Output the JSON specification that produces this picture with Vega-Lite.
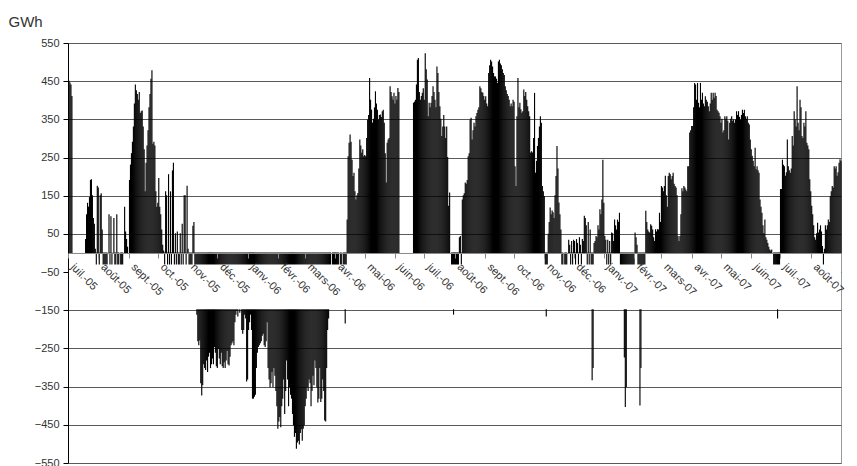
{
"$schema": "https://vega.github.io/schema/vega-lite/v6.json",
"width": 773, "height": 420,
"autosize": {"type": "none"},
"padding": {"left": 68, "top": 43, "right": 16, "bottom": 3},
"background": "white",
"config": {"font": "Liberation Sans", "view": {"stroke": "#9a9a9a", "strokeWidth": 1}},
"data": {"values": [
{"d":"2005-07-01","v":450},{"d":"2005-07-02","v":445},{"d":"2005-07-03","v":440},{"d":"2005-07-04","v":410},{"d":"2005-07-05","v":0},{"d":"2005-07-06","v":0},{"d":"2005-07-07","v":0},{"d":"2005-07-08","v":0},{"d":"2005-07-09","v":0},{"d":"2005-07-10","v":0},{"d":"2005-07-11","v":0},{"d":"2005-07-12","v":0},{"d":"2005-07-13","v":0},{"d":"2005-07-14","v":0},{"d":"2005-07-15","v":0},{"d":"2005-07-16","v":0},{"d":"2005-07-17","v":0},{"d":"2005-07-18","v":35},{"d":"2005-07-19","v":100},{"d":"2005-07-20","v":130},{"d":"2005-07-21","v":120},{"d":"2005-07-22","v":145},{"d":"2005-07-23","v":190},{"d":"2005-07-24","v":192},{"d":"2005-07-25","v":150},{"d":"2005-07-26","v":90},{"d":"2005-07-27","v":75},{"d":"2005-07-28","v":10},{"d":"2005-07-29","v":-80},{"d":"2005-07-30","v":175},{"d":"2005-07-31","v":170},
{"d":"2005-08-01","v":-90},{"d":"2005-08-02","v":150},{"d":"2005-08-03","v":155},{"d":"2005-08-04","v":60},{"d":"2005-08-05","v":-70},{"d":"2005-08-06","v":-100},{"d":"2005-08-07","v":-80},{"d":"2005-08-08","v":-60},{"d":"2005-08-09","v":-90},{"d":"2005-08-10","v":0},{"d":"2005-08-11","v":100},{"d":"2005-08-12","v":-70},{"d":"2005-08-13","v":95},{"d":"2005-08-14","v":-80},{"d":"2005-08-15","v":0},{"d":"2005-08-16","v":90},{"d":"2005-08-17","v":-60},{"d":"2005-08-18","v":-90},{"d":"2005-08-19","v":100},{"d":"2005-08-20","v":-70},{"d":"2005-08-21","v":-80},{"d":"2005-08-22","v":0},{"d":"2005-08-23","v":-60},{"d":"2005-08-24","v":-90},{"d":"2005-08-25","v":-80},{"d":"2005-08-26","v":0},{"d":"2005-08-27","v":120},{"d":"2005-08-28","v":55},{"d":"2005-08-29","v":35},{"d":"2005-08-30","v":15},{"d":"2005-08-31","v":0},
{"d":"2005-09-01","v":190},{"d":"2005-09-02","v":230},{"d":"2005-09-03","v":260},{"d":"2005-09-04","v":290},{"d":"2005-09-05","v":330},{"d":"2005-09-06","v":390},{"d":"2005-09-07","v":440},{"d":"2005-09-08","v":425},{"d":"2005-09-09","v":415},{"d":"2005-09-10","v":400},{"d":"2005-09-11","v":420},{"d":"2005-09-12","v":365},{"d":"2005-09-13","v":370},{"d":"2005-09-14","v":372},{"d":"2005-09-15","v":330},{"d":"2005-09-16","v":270},{"d":"2005-09-17","v":160},{"d":"2005-09-18","v":235},{"d":"2005-09-19","v":280},{"d":"2005-09-20","v":320},{"d":"2005-09-21","v":380},{"d":"2005-09-22","v":415},{"d":"2005-09-23","v":455},{"d":"2005-09-24","v":477},{"d":"2005-09-25","v":285},{"d":"2005-09-26","v":290},{"d":"2005-09-27","v":280},{"d":"2005-09-28","v":160},{"d":"2005-09-29","v":120},{"d":"2005-09-30","v":130},
{"d":"2005-10-01","v":195},{"d":"2005-10-02","v":120},{"d":"2005-10-03","v":100},{"d":"2005-10-04","v":60},{"d":"2005-10-05","v":20},{"d":"2005-10-06","v":5},{"d":"2005-10-07","v":-80},{"d":"2005-10-08","v":160},{"d":"2005-10-09","v":150},{"d":"2005-10-10","v":-90},{"d":"2005-10-11","v":205},{"d":"2005-10-12","v":-70},{"d":"2005-10-13","v":160},{"d":"2005-10-14","v":-100},{"d":"2005-10-15","v":215},{"d":"2005-10-16","v":235},{"d":"2005-10-17","v":-80},{"d":"2005-10-18","v":50},{"d":"2005-10-19","v":-60},{"d":"2005-10-20","v":55},{"d":"2005-10-21","v":-90},{"d":"2005-10-22","v":-70},{"d":"2005-10-23","v":50},{"d":"2005-10-24","v":-80},{"d":"2005-10-25","v":75},{"d":"2005-10-26","v":-60},{"d":"2005-10-27","v":150},{"d":"2005-10-28","v":150},{"d":"2005-10-29","v":-70},{"d":"2005-10-30","v":175},{"d":"2005-10-31","v":10},
{"d":"2005-11-01","v":-90},{"d":"2005-11-02","v":-100},{"d":"2005-11-03","v":-80},{"d":"2005-11-04","v":-120},{"d":"2005-11-05","v":70},{"d":"2005-11-06","v":80},{"d":"2005-11-07","v":-110},{"d":"2005-11-08","v":-120},{"d":"2005-11-09","v":-160},{"d":"2005-11-10","v":-230},{"d":"2005-11-11","v":-240},{"d":"2005-11-12","v":-228},{"d":"2005-11-13","v":-340},{"d":"2005-11-14","v":-372},{"d":"2005-11-15","v":-345},{"d":"2005-11-16","v":-290},{"d":"2005-11-17","v":-300},{"d":"2005-11-18","v":-305},{"d":"2005-11-19","v":-280},{"d":"2005-11-20","v":-310},{"d":"2005-11-21","v":-270},{"d":"2005-11-22","v":-260},{"d":"2005-11-23","v":-300},{"d":"2005-11-24","v":-290},{"d":"2005-11-25","v":-275},{"d":"2005-11-26","v":-290},{"d":"2005-11-27","v":-245},{"d":"2005-11-28","v":-260},{"d":"2005-11-29","v":-295},{"d":"2005-11-30","v":-300},
{"d":"2005-12-01","v":-250},{"d":"2005-12-02","v":-275},{"d":"2005-12-03","v":-290},{"d":"2005-12-04","v":-260},{"d":"2005-12-05","v":-295},{"d":"2005-12-06","v":-300},{"d":"2005-12-07","v":-285},{"d":"2005-12-08","v":-300},{"d":"2005-12-09","v":-280},{"d":"2005-12-10","v":-255},{"d":"2005-12-11","v":-290},{"d":"2005-12-12","v":-293},{"d":"2005-12-13","v":-270},{"d":"2005-12-14","v":-240},{"d":"2005-12-15","v":-235},{"d":"2005-12-16","v":-230},{"d":"2005-12-17","v":-240},{"d":"2005-12-18","v":-180},{"d":"2005-12-19","v":-160},{"d":"2005-12-20","v":-150},{"d":"2005-12-21","v":-165},{"d":"2005-12-22","v":-140},{"d":"2005-12-23","v":-155},{"d":"2005-12-24","v":-140},{"d":"2005-12-25","v":-200},{"d":"2005-12-26","v":-210},{"d":"2005-12-27","v":-200},{"d":"2005-12-28","v":-160},{"d":"2005-12-29","v":-170},{"d":"2005-12-30","v":-335},{"d":"2005-12-31","v":-330},
{"d":"2006-01-01","v":-200},{"d":"2006-01-02","v":-180},{"d":"2006-01-03","v":-160},{"d":"2006-01-04","v":-200},{"d":"2006-01-05","v":-380},{"d":"2006-01-06","v":-380},{"d":"2006-01-07","v":-375},{"d":"2006-01-08","v":-370},{"d":"2006-01-09","v":-300},{"d":"2006-01-10","v":-260},{"d":"2006-01-11","v":-245},{"d":"2006-01-12","v":-240},{"d":"2006-01-13","v":-235},{"d":"2006-01-14","v":-230},{"d":"2006-01-15","v":-215},{"d":"2006-01-16","v":-210},{"d":"2006-01-17","v":-240},{"d":"2006-01-18","v":-245},{"d":"2006-01-19","v":-230},{"d":"2006-01-20","v":-180},{"d":"2006-01-21","v":-300},{"d":"2006-01-22","v":-330},{"d":"2006-01-23","v":-350},{"d":"2006-01-24","v":-340},{"d":"2006-01-25","v":-310},{"d":"2006-01-26","v":-350},{"d":"2006-01-27","v":-300},{"d":"2006-01-28","v":-320},{"d":"2006-01-29","v":-360},{"d":"2006-01-30","v":-400},{"d":"2006-01-31","v":-459},
{"d":"2006-02-01","v":-440},{"d":"2006-02-02","v":-428},{"d":"2006-02-03","v":-455},{"d":"2006-02-04","v":-400},{"d":"2006-02-05","v":-380},{"d":"2006-02-06","v":-330},{"d":"2006-02-07","v":-420},{"d":"2006-02-08","v":-360},{"d":"2006-02-09","v":-280},{"d":"2006-02-10","v":-330},{"d":"2006-02-11","v":-400},{"d":"2006-02-12","v":-350},{"d":"2006-02-13","v":-370},{"d":"2006-02-14","v":-380},{"d":"2006-02-15","v":-420},{"d":"2006-02-16","v":-450},{"d":"2006-02-17","v":-480},{"d":"2006-02-18","v":-470},{"d":"2006-02-19","v":-511},{"d":"2006-02-20","v":-495},{"d":"2006-02-21","v":-490},{"d":"2006-02-22","v":-500},{"d":"2006-02-23","v":-470},{"d":"2006-02-24","v":-460},{"d":"2006-02-25","v":-490},{"d":"2006-02-26","v":-459},{"d":"2006-02-27","v":-450},{"d":"2006-02-28","v":-400},
{"d":"2006-03-01","v":-380},{"d":"2006-03-02","v":-350},{"d":"2006-03-03","v":-360},{"d":"2006-03-04","v":-330},{"d":"2006-03-05","v":-340},{"d":"2006-03-06","v":-400},{"d":"2006-03-07","v":-360},{"d":"2006-03-08","v":-320},{"d":"2006-03-09","v":-345},{"d":"2006-03-10","v":-280},{"d":"2006-03-11","v":-300},{"d":"2006-03-12","v":-350},{"d":"2006-03-13","v":-390},{"d":"2006-03-14","v":-380},{"d":"2006-03-15","v":-300},{"d":"2006-03-16","v":-389},{"d":"2006-03-17","v":-380},{"d":"2006-03-18","v":-330},{"d":"2006-03-19","v":-360},{"d":"2006-03-20","v":-437},{"d":"2006-03-21","v":-440},{"d":"2006-03-22","v":-300},{"d":"2006-03-23","v":-200},{"d":"2006-03-24","v":-170},{"d":"2006-03-25","v":-100},{"d":"2006-03-26","v":-80},{"d":"2006-03-27","v":0},{"d":"2006-03-28","v":-90},{"d":"2006-03-29","v":-120},{"d":"2006-03-30","v":-60},{"d":"2006-03-31","v":-100},
{"d":"2006-04-01","v":-100},{"d":"2006-04-02","v":-80},{"d":"2006-04-03","v":-120},{"d":"2006-04-04","v":0},{"d":"2006-04-05","v":-90},{"d":"2006-04-06","v":-60},{"d":"2006-04-07","v":0},{"d":"2006-04-08","v":-100},{"d":"2006-04-09","v":-80},{"d":"2006-04-10","v":-183},{"d":"2006-04-11","v":-90},{"d":"2006-04-12","v":86},{"d":"2006-04-13","v":252},{"d":"2006-04-14","v":287},{"d":"2006-04-15","v":309},{"d":"2006-04-16","v":290},{"d":"2006-04-17","v":243},{"d":"2006-04-18","v":200},{"d":"2006-04-19","v":209},{"d":"2006-04-20","v":160},{"d":"2006-04-21","v":139},{"d":"2006-04-22","v":150},{"d":"2006-04-23","v":156},{"d":"2006-04-24","v":220},{"d":"2006-04-25","v":296},{"d":"2006-04-26","v":280},{"d":"2006-04-27","v":261},{"d":"2006-04-28","v":270},{"d":"2006-04-29","v":252},{"d":"2006-04-30","v":255},
{"d":"2006-05-01","v":252},{"d":"2006-05-02","v":300},{"d":"2006-05-03","v":348},{"d":"2006-05-04","v":360},{"d":"2006-05-05","v":457},{"d":"2006-05-06","v":400},{"d":"2006-05-07","v":374},{"d":"2006-05-08","v":340},{"d":"2006-05-09","v":350},{"d":"2006-05-10","v":380},{"d":"2006-05-11","v":422},{"d":"2006-05-12","v":390},{"d":"2006-05-13","v":374},{"d":"2006-05-14","v":348},{"d":"2006-05-15","v":360},{"d":"2006-05-16","v":361},{"d":"2006-05-17","v":355},{"d":"2006-05-18","v":370},{"d":"2006-05-19","v":374},{"d":"2006-05-20","v":340},{"d":"2006-05-21","v":260},{"d":"2006-05-22","v":183},{"d":"2006-05-23","v":287},{"d":"2006-05-24","v":296},{"d":"2006-05-25","v":300},{"d":"2006-05-26","v":435},{"d":"2006-05-27","v":420},{"d":"2006-05-28","v":409},{"d":"2006-05-29","v":400},{"d":"2006-05-30","v":418},{"d":"2006-05-31","v":390},
{"d":"2006-06-01","v":410},{"d":"2006-06-02","v":400},{"d":"2006-06-03","v":431},{"d":"2006-06-04","v":420},{"d":"2006-06-05","v":0},{"d":"2006-06-06","v":0},{"d":"2006-06-07","v":0},{"d":"2006-06-08","v":0},{"d":"2006-06-09","v":0},{"d":"2006-06-10","v":0},{"d":"2006-06-11","v":0},{"d":"2006-06-12","v":0},{"d":"2006-06-13","v":0},{"d":"2006-06-14","v":0},{"d":"2006-06-15","v":0},{"d":"2006-06-16","v":0},{"d":"2006-06-17","v":0},{"d":"2006-06-18","v":0},{"d":"2006-06-19","v":392},{"d":"2006-06-20","v":395},{"d":"2006-06-21","v":400},{"d":"2006-06-22","v":440},{"d":"2006-06-23","v":505},{"d":"2006-06-24","v":509},{"d":"2006-06-25","v":420},{"d":"2006-06-26","v":400},{"d":"2006-06-27","v":410},{"d":"2006-06-28","v":418},{"d":"2006-06-29","v":430},{"d":"2006-06-30","v":400},
{"d":"2006-07-01","v":522},{"d":"2006-07-02","v":480},{"d":"2006-07-03","v":453},{"d":"2006-07-04","v":357},{"d":"2006-07-05","v":392},{"d":"2006-07-06","v":380},{"d":"2006-07-07","v":392},{"d":"2006-07-08","v":410},{"d":"2006-07-09","v":435},{"d":"2006-07-10","v":420},{"d":"2006-07-11","v":400},{"d":"2006-07-12","v":380},{"d":"2006-07-13","v":487},{"d":"2006-07-14","v":470},{"d":"2006-07-15","v":420},{"d":"2006-07-16","v":383},{"d":"2006-07-17","v":350},{"d":"2006-07-18","v":305},{"d":"2006-07-19","v":330},{"d":"2006-07-20","v":360},{"d":"2006-07-21","v":330},{"d":"2006-07-22","v":300},{"d":"2006-07-23","v":330},{"d":"2006-07-24","v":250},{"d":"2006-07-25","v":122},{"d":"2006-07-26","v":157},{"d":"2006-07-27","v":0},{"d":"2006-07-28","v":-80},{"d":"2006-07-29","v":-100},{"d":"2006-07-30","v":-160},{"d":"2006-07-31","v":-120},
{"d":"2006-08-01","v":-100},{"d":"2006-08-02","v":-90},{"d":"2006-08-03","v":-120},{"d":"2006-08-04","v":-80},{"d":"2006-08-05","v":40},{"d":"2006-08-06","v":43},{"d":"2006-08-07","v":-60},{"d":"2006-08-08","v":139},{"d":"2006-08-09","v":150},{"d":"2006-08-10","v":155},{"d":"2006-08-11","v":183},{"d":"2006-08-12","v":180},{"d":"2006-08-13","v":190},{"d":"2006-08-14","v":252},{"d":"2006-08-15","v":260},{"d":"2006-08-16","v":348},{"d":"2006-08-17","v":353},{"d":"2006-08-18","v":296},{"d":"2006-08-19","v":320},{"d":"2006-08-20","v":340},{"d":"2006-08-21","v":330},{"d":"2006-08-22","v":357},{"d":"2006-08-23","v":365},{"d":"2006-08-24","v":374},{"d":"2006-08-25","v":380},{"d":"2006-08-26","v":435},{"d":"2006-08-27","v":430},{"d":"2006-08-28","v":420},{"d":"2006-08-29","v":418},{"d":"2006-08-30","v":410},{"d":"2006-08-31","v":400},
{"d":"2006-09-01","v":409},{"d":"2006-09-02","v":390},{"d":"2006-09-03","v":383},{"d":"2006-09-04","v":470},{"d":"2006-09-05","v":490},{"d":"2006-09-06","v":505},{"d":"2006-09-07","v":500},{"d":"2006-09-08","v":487},{"d":"2006-09-09","v":470},{"d":"2006-09-10","v":461},{"d":"2006-09-11","v":461},{"d":"2006-09-12","v":455},{"d":"2006-09-13","v":444},{"d":"2006-09-14","v":500},{"d":"2006-09-15","v":505},{"d":"2006-09-16","v":495},{"d":"2006-09-17","v":490},{"d":"2006-09-18","v":480},{"d":"2006-09-19","v":470},{"d":"2006-09-20","v":465},{"d":"2006-09-21","v":435},{"d":"2006-09-22","v":425},{"d":"2006-09-23","v":415},{"d":"2006-09-24","v":410},{"d":"2006-09-25","v":400},{"d":"2006-09-26","v":383},{"d":"2006-09-27","v":390},{"d":"2006-09-28","v":383},{"d":"2006-09-29","v":400},{"d":"2006-09-30","v":395},
{"d":"2006-10-01","v":226},{"d":"2006-10-02","v":174},{"d":"2006-10-03","v":357},{"d":"2006-10-04","v":457},{"d":"2006-10-05","v":380},{"d":"2006-10-06","v":392},{"d":"2006-10-07","v":375},{"d":"2006-10-08","v":366},{"d":"2006-10-09","v":370},{"d":"2006-10-10","v":427},{"d":"2006-10-11","v":410},{"d":"2006-10-12","v":420},{"d":"2006-10-13","v":400},{"d":"2006-10-14","v":383},{"d":"2006-10-15","v":370},{"d":"2006-10-16","v":357},{"d":"2006-10-17","v":262},{"d":"2006-10-18","v":265},{"d":"2006-10-19","v":262},{"d":"2006-10-20","v":300},{"d":"2006-10-21","v":418},{"d":"2006-10-22","v":209},{"d":"2006-10-23","v":240},{"d":"2006-10-24","v":279},{"d":"2006-10-25","v":300},{"d":"2006-10-26","v":330},{"d":"2006-10-27","v":357},{"d":"2006-10-28","v":340},{"d":"2006-10-29","v":174},{"d":"2006-10-30","v":160},{"d":"2006-10-31","v":148},
{"d":"2006-11-01","v":-100},{"d":"2006-11-02","v":-165},{"d":"2006-11-03","v":-90},{"d":"2006-11-04","v":49},{"d":"2006-11-05","v":80},{"d":"2006-11-06","v":118},{"d":"2006-11-07","v":100},{"d":"2006-11-08","v":110},{"d":"2006-11-09","v":105},{"d":"2006-11-10","v":90},{"d":"2006-11-11","v":150},{"d":"2006-11-12","v":200},{"d":"2006-11-13","v":279},{"d":"2006-11-14","v":220},{"d":"2006-11-15","v":131},{"d":"2006-11-16","v":100},{"d":"2006-11-17","v":60},{"d":"2006-11-18","v":-80},{"d":"2006-11-19","v":-100},{"d":"2006-11-20","v":0},{"d":"2006-11-21","v":-90},{"d":"2006-11-22","v":-70},{"d":"2006-11-23","v":-110},{"d":"2006-11-24","v":0},{"d":"2006-11-25","v":33},{"d":"2006-11-26","v":20},{"d":"2006-11-27","v":-60},{"d":"2006-11-28","v":30},{"d":"2006-11-29","v":-80},{"d":"2006-11-30","v":33},
{"d":"2006-12-01","v":30},{"d":"2006-12-02","v":-70},{"d":"2006-12-03","v":35},{"d":"2006-12-04","v":25},{"d":"2006-12-05","v":-80},{"d":"2006-12-06","v":40},{"d":"2006-12-07","v":20},{"d":"2006-12-08","v":-60},{"d":"2006-12-09","v":35},{"d":"2006-12-10","v":30},{"d":"2006-12-11","v":96},{"d":"2006-12-12","v":90},{"d":"2006-12-13","v":71},{"d":"2006-12-14","v":-90},{"d":"2006-12-15","v":80},{"d":"2006-12-16","v":-100},{"d":"2006-12-17","v":60},{"d":"2006-12-18","v":-120},{"d":"2006-12-19","v":-332},{"d":"2006-12-20","v":-300},{"d":"2006-12-21","v":25},{"d":"2006-12-22","v":30},{"d":"2006-12-23","v":43},{"d":"2006-12-24","v":40},{"d":"2006-12-25","v":71},{"d":"2006-12-26","v":60},{"d":"2006-12-27","v":113},{"d":"2006-12-28","v":100},{"d":"2006-12-29","v":139},{"d":"2006-12-30","v":243},{"d":"2006-12-31","v":130},
{"d":"2007-01-01","v":43},{"d":"2007-01-02","v":33},{"d":"2007-01-03","v":-80},{"d":"2007-01-04","v":33},{"d":"2007-01-05","v":-60},{"d":"2007-01-06","v":30},{"d":"2007-01-07","v":-90},{"d":"2007-01-08","v":52},{"d":"2007-01-09","v":50},{"d":"2007-01-10","v":30},{"d":"2007-01-11","v":86},{"d":"2007-01-12","v":71},{"d":"2007-01-13","v":60},{"d":"2007-01-14","v":86},{"d":"2007-01-15","v":80},{"d":"2007-01-16","v":104},{"d":"2007-01-17","v":-100},{"d":"2007-01-18","v":-120},{"d":"2007-01-19","v":-110},{"d":"2007-01-20","v":-130},{"d":"2007-01-21","v":-272},{"d":"2007-01-22","v":-402},{"d":"2007-01-23","v":-350},{"d":"2007-01-24","v":-120},{"d":"2007-01-25","v":-100},{"d":"2007-01-26","v":-110},{"d":"2007-01-27","v":-130},{"d":"2007-01-28","v":-90},{"d":"2007-01-29","v":-100},{"d":"2007-01-30","v":-120},{"d":"2007-01-31","v":-80},
{"d":"2007-02-01","v":52},{"d":"2007-02-02","v":40},{"d":"2007-02-03","v":20},{"d":"2007-02-04","v":-100},{"d":"2007-02-05","v":-120},{"d":"2007-02-06","v":-398},{"d":"2007-02-07","v":-300},{"d":"2007-02-08","v":-110},{"d":"2007-02-09","v":-100},{"d":"2007-02-10","v":-90},{"d":"2007-02-11","v":-120},{"d":"2007-02-12","v":109},{"d":"2007-02-13","v":80},{"d":"2007-02-14","v":60},{"d":"2007-02-15","v":55},{"d":"2007-02-16","v":52},{"d":"2007-02-17","v":74},{"d":"2007-02-18","v":70},{"d":"2007-02-19","v":60},{"d":"2007-02-20","v":40},{"d":"2007-02-21","v":30},{"d":"2007-02-22","v":61},{"d":"2007-02-23","v":55},{"d":"2007-02-24","v":61},{"d":"2007-02-25","v":60},{"d":"2007-02-26","v":104},{"d":"2007-02-27","v":80},{"d":"2007-02-28","v":174},
{"d":"2007-03-01","v":170},{"d":"2007-03-02","v":160},{"d":"2007-03-03","v":174},{"d":"2007-03-04","v":201},{"d":"2007-03-05","v":150},{"d":"2007-03-06","v":120},{"d":"2007-03-07","v":200},{"d":"2007-03-08","v":209},{"d":"2007-03-09","v":205},{"d":"2007-03-10","v":192},{"d":"2007-03-11","v":200},{"d":"2007-03-12","v":209},{"d":"2007-03-13","v":180},{"d":"2007-03-14","v":174},{"d":"2007-03-15","v":170},{"d":"2007-03-16","v":150},{"d":"2007-03-17","v":43},{"d":"2007-03-18","v":30},{"d":"2007-03-19","v":43},{"d":"2007-03-20","v":100},{"d":"2007-03-21","v":168},{"d":"2007-03-22","v":160},{"d":"2007-03-23","v":174},{"d":"2007-03-24","v":170},{"d":"2007-03-25","v":165},{"d":"2007-03-26","v":160},{"d":"2007-03-27","v":226},{"d":"2007-03-28","v":226},{"d":"2007-03-29","v":314},{"d":"2007-03-30","v":320},{"d":"2007-03-31","v":331},
{"d":"2007-04-01","v":331},{"d":"2007-04-02","v":380},{"d":"2007-04-03","v":444},{"d":"2007-04-04","v":440},{"d":"2007-04-05","v":400},{"d":"2007-04-06","v":444},{"d":"2007-04-07","v":392},{"d":"2007-04-08","v":380},{"d":"2007-04-09","v":444},{"d":"2007-04-10","v":400},{"d":"2007-04-11","v":418},{"d":"2007-04-12","v":390},{"d":"2007-04-13","v":383},{"d":"2007-04-14","v":409},{"d":"2007-04-15","v":400},{"d":"2007-04-16","v":395},{"d":"2007-04-17","v":383},{"d":"2007-04-18","v":370},{"d":"2007-04-19","v":390},{"d":"2007-04-20","v":418},{"d":"2007-04-21","v":400},{"d":"2007-04-22","v":418},{"d":"2007-04-23","v":405},{"d":"2007-04-24","v":418},{"d":"2007-04-25","v":410},{"d":"2007-04-26","v":374},{"d":"2007-04-27","v":370},{"d":"2007-04-28","v":366},{"d":"2007-04-29","v":357},{"d":"2007-04-30","v":340},
{"d":"2007-05-01","v":350},{"d":"2007-05-02","v":314},{"d":"2007-05-03","v":320},{"d":"2007-05-04","v":357},{"d":"2007-05-05","v":350},{"d":"2007-05-06","v":357},{"d":"2007-05-07","v":345},{"d":"2007-05-08","v":296},{"d":"2007-05-09","v":340},{"d":"2007-05-10","v":350},{"d":"2007-05-11","v":357},{"d":"2007-05-12","v":345},{"d":"2007-05-13","v":348},{"d":"2007-05-14","v":340},{"d":"2007-05-15","v":348},{"d":"2007-05-16","v":370},{"d":"2007-05-17","v":360},{"d":"2007-05-18","v":370},{"d":"2007-05-19","v":355},{"d":"2007-05-20","v":348},{"d":"2007-05-21","v":360},{"d":"2007-05-22","v":374},{"d":"2007-05-23","v":365},{"d":"2007-05-24","v":374},{"d":"2007-05-25","v":357},{"d":"2007-05-26","v":350},{"d":"2007-05-27","v":357},{"d":"2007-05-28","v":340},{"d":"2007-05-29","v":335},{"d":"2007-05-30","v":296},{"d":"2007-05-31","v":270},
{"d":"2007-06-01","v":253},{"d":"2007-06-02","v":240},{"d":"2007-06-03","v":226},{"d":"2007-06-04","v":274},{"d":"2007-06-05","v":218},{"d":"2007-06-06","v":226},{"d":"2007-06-07","v":215},{"d":"2007-06-08","v":209},{"d":"2007-06-09","v":139},{"d":"2007-06-10","v":120},{"d":"2007-06-11","v":104},{"d":"2007-06-12","v":71},{"d":"2007-06-13","v":50},{"d":"2007-06-14","v":86},{"d":"2007-06-15","v":40},{"d":"2007-06-16","v":33},{"d":"2007-06-17","v":25},{"d":"2007-06-18","v":15},{"d":"2007-06-19","v":8},{"d":"2007-06-20","v":5},{"d":"2007-06-21","v":8},{"d":"2007-06-22","v":0},{"d":"2007-06-23","v":-80},{"d":"2007-06-24","v":-100},{"d":"2007-06-25","v":-90},{"d":"2007-06-26","v":-120},{"d":"2007-06-27","v":-170},{"d":"2007-06-28","v":-110},{"d":"2007-06-29","v":-90},{"d":"2007-06-30","v":166},
{"d":"2007-07-01","v":166},{"d":"2007-07-02","v":243},{"d":"2007-07-03","v":230},{"d":"2007-07-04","v":226},{"d":"2007-07-05","v":201},{"d":"2007-07-06","v":210},{"d":"2007-07-07","v":296},{"d":"2007-07-08","v":226},{"d":"2007-07-09","v":215},{"d":"2007-07-10","v":209},{"d":"2007-07-11","v":220},{"d":"2007-07-12","v":305},{"d":"2007-07-13","v":280},{"d":"2007-07-14","v":370},{"d":"2007-07-15","v":348},{"d":"2007-07-16","v":330},{"d":"2007-07-17","v":435},{"d":"2007-07-18","v":340},{"d":"2007-07-19","v":320},{"d":"2007-07-20","v":400},{"d":"2007-07-21","v":380},{"d":"2007-07-22","v":305},{"d":"2007-07-23","v":300},{"d":"2007-07-24","v":340},{"d":"2007-07-25","v":330},{"d":"2007-07-26","v":370},{"d":"2007-07-27","v":287},{"d":"2007-07-28","v":280},{"d":"2007-07-29","v":270},{"d":"2007-07-30","v":192},{"d":"2007-07-31","v":160},
{"d":"2007-08-01","v":122},{"d":"2007-08-02","v":100},{"d":"2007-08-03","v":71},{"d":"2007-08-04","v":40},{"d":"2007-08-05","v":33},{"d":"2007-08-06","v":50},{"d":"2007-08-07","v":78},{"d":"2007-08-08","v":52},{"d":"2007-08-09","v":60},{"d":"2007-08-10","v":71},{"d":"2007-08-11","v":55},{"d":"2007-08-12","v":17},{"d":"2007-08-13","v":-80},{"d":"2007-08-14","v":10},{"d":"2007-08-15","v":71},{"d":"2007-08-16","v":60},{"d":"2007-08-17","v":71},{"d":"2007-08-18","v":86},{"d":"2007-08-19","v":80},{"d":"2007-08-20","v":148},{"d":"2007-08-21","v":160},{"d":"2007-08-22","v":174},{"d":"2007-08-23","v":170},{"d":"2007-08-24","v":226},{"d":"2007-08-25","v":220},{"d":"2007-08-26","v":226},{"d":"2007-08-27","v":201},{"d":"2007-08-28","v":210},{"d":"2007-08-29","v":235},{"d":"2007-08-30","v":244},{"d":"2007-08-31","v":240}
]},
"layer": [
{
"mark": {"type": "bar", "color": "black", "stroke": "black", "strokeWidth": 1.1},
"encoding": {
"x": {"field": "d", "type": "temporal", "timeUnit": "utcyearmonthdate",
"scale": {"type": "utc", "domain": [{"year":2005,"month":7,"date":1,"utc":true},{"year":2007,"month":9,"date":1,"utc":true}]},
"axis": {"title": null, "offset": -210, "zindex": 1, "tickCount": 40,
"values": [{"year":2005,"month":7,"date":1,"utc":true},{"year":2005,"month":8,"date":1,"utc":true},{"year":2005,"month":9,"date":1,"utc":true},{"year":2005,"month":10,"date":1,"utc":true},{"year":2005,"month":11,"date":1,"utc":true},{"year":2005,"month":12,"date":1,"utc":true},{"year":2006,"month":1,"date":1,"utc":true},{"year":2006,"month":2,"date":1,"utc":true},{"year":2006,"month":3,"date":1,"utc":true},{"year":2006,"month":4,"date":1,"utc":true},{"year":2006,"month":5,"date":1,"utc":true},{"year":2006,"month":6,"date":1,"utc":true},{"year":2006,"month":7,"date":1,"utc":true},{"year":2006,"month":8,"date":1,"utc":true},{"year":2006,"month":9,"date":1,"utc":true},{"year":2006,"month":10,"date":1,"utc":true},{"year":2006,"month":11,"date":1,"utc":true},{"year":2006,"month":12,"date":1,"utc":true},{"year":2007,"month":1,"date":1,"utc":true},{"year":2007,"month":2,"date":1,"utc":true},{"year":2007,"month":3,"date":1,"utc":true},{"year":2007,"month":4,"date":1,"utc":true},{"year":2007,"month":5,"date":1,"utc":true},{"year":2007,"month":6,"date":1,"utc":true},{"year":2007,"month":7,"date":1,"utc":true},{"year":2007,"month":8,"date":1,"utc":true}],
"labelExpr": "['janv.','févr.','mars','avr.','mai','juin','juil.','août','sept.','oct.','nov.','déc.'][utcmonth(datum.value)] + '-' + utcFormat(datum.value, '%y')",
"labelAngle": 45, "labelAlign": "left", "labelBaseline": "top", "labelOverlap": false, "labelFlush": false, "labelBound": false,
"labelFont": "Liberation Sans", "labelFontSize": 11, "labelColor": "#333333", "labelPadding": 3, "labelOffset": 8,
"tickSize": 5, "tickColor": "#8a8a8a", "domainColor": "#8a8a8a", "grid": false}
},
"y": {"field": "v", "type": "quantitative",
"scale": {"domain": [-550, 550], "nice": false, "zero": false},
"axis": {"values": [-550,-450,-350,-250,-150,-50,50,150,250,350,450,550], "tickCount": 40, "labelOverlap": false,
"grid": true, "gridColor": "#5a5a5a", "gridWidth": 1, "domainColor": "black", "domainWidth": 1,
"tickColor": "black", "tickSize": 5, "labelPadding": 4, "labelFont": "Liberation Sans", "labelFontSize": 11, "labelColor": "#333333",
"title": "GWh", "titleAngle": 0, "titleAlign": "left", "titleBaseline": "middle", "titleX": -60, "titleY": -22,
"titleFont": "Liberation Sans", "titleFontSize": 15, "titleFontWeight": "normal", "titleColor": "#333333"}
}
}
},
{
"data": {"values": [{}]},
"mark": {"type": "rect", "color": "white"},
"encoding": {
"x": {"datum": {"year":2005,"month":7,"date":2,"utc":true}, "type": "temporal", "scale": {"type": "utc"}},
"x2": {"datum": {"year":2007,"month":9,"date":1,"utc":true}},
"y": {"datum": -30, "type": "quantitative"},
"y2": {"datum": -147}
}
}
]
}
